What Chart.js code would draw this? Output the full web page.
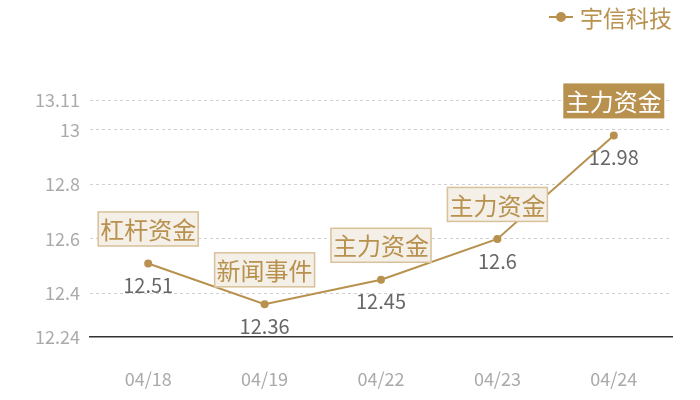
<!DOCTYPE html>
<html><head><meta charset="utf-8">
<script src="https://cdn.jsdelivr.net/npm/chart.js@4"></script>
<style>html,body{margin:0;padding:0;background:#fff}#wrap{width:700px;height:400px}</style>
</head><body><div id="wrap"><canvas id="c" width="700" height="400"></canvas></div>
<script>
const categories = ['04/18','04/19','04/22','04/23','04/24'];
const prices = [12.51, 12.36, 12.45, 12.6, 12.98];
const tags = ['杠杆资金','新闻事件','主力资金','主力资金','主力资金'];
const highlighted = [false,false,false,false,true];
const yTicks = [12.24, 12.4, 12.6, 12.8, 13, 13.11];
const seriesName = '宇信科技';

const GOLD = '#b8914f';
const FONT = '"Noto Sans CJK SC","Noto Sans",sans-serif';

const annot = {
  id:'annot',
  afterDatasetsDraw(chart){
    const ctx = chart.ctx;
    const meta = chart.getDatasetMeta(0);
    ctx.save();
    meta.data.forEach((pt,i)=>{
      const x = pt.x, y = pt.y;
      // value label
      ctx.font = '20px ' + FONT;
      ctx.fillStyle = '#666';
      ctx.textAlign = 'center';
      ctx.textBaseline = 'middle';
      ctx.fillText(String(prices[i]), x, y + 22);
      // tag box
      ctx.font = '24px ' + FONT;
      const w = 101, h = 35;
      const bx = x - w/2, by = y - 17 - h;
      if (highlighted[i]) {
        ctx.fillStyle = GOLD;
        ctx.fillRect(bx, by, w, h);
        ctx.fillStyle = '#fff';
      } else {
        ctx.fillStyle = '#f4efe7';
        ctx.fillRect(bx, by, w, h);
        ctx.strokeStyle = '#d8c29a';
        ctx.lineWidth = 1.5;
        ctx.strokeRect(bx+0.5, by+0.5, w-1, h-1);
        ctx.fillStyle = GOLD;
      }
      ctx.fillText(tags[i], x, by + h/2 + 1);
    });
    // legend
    ctx.strokeStyle = GOLD; ctx.lineWidth = 2;
    ctx.beginPath(); ctx.moveTo(549,17); ctx.lineTo(573,17); ctx.stroke();
    ctx.fillStyle = GOLD;
    ctx.beginPath(); ctx.arc(561,17,5,0,Math.PI*2); ctx.fill();
    ctx.font = '23px ' + FONT;
    ctx.textAlign = 'left';
    ctx.fillText(seriesName, 580, 18);
    ctx.restore();
  }
};

new Chart(document.getElementById('c'), {
  type:'line',
  data:{ labels: categories, datasets:[{
    label: seriesName, data: prices, borderColor: GOLD, backgroundColor: GOLD,
    borderWidth: 2, pointRadius: 4, pointBackgroundColor: GOLD, pointBorderWidth: 0,
    tension: 0, clip: false
  }]},
  options:{
    responsive:false, animation:false, devicePixelRatio:1,
    layout:{ padding:{ top:100, right:28, left:0, bottom:0 } },
    plugins:{ legend:{display:false}, tooltip:{enabled:false} },
    scales:{
      x:{
        offset:true,
        grid:{ display:false },
        border:{ display:true, color:'#333', width:1.5 },
        ticks:{ color:'#aaa', font:{ size:18, family:FONT }, padding:23 },
        afterFit(s){ s.height = 63; }
      },
      y:{
        min: 12.24, max: 13.11,
        afterBuildTicks(s){ s.ticks = yTicks.map(v=>({value:v})); },
        grid:{ color:(c)=> c.tick && c.tick.value === 12.24 ? 'rgba(0,0,0,0)' : '#d0d0d0', drawTicks:false, lineWidth:1 },
        border:{ display:false, dash:[3,3] },
        ticks:{ color:'#aaa', font:{ size:18, family:FONT }, padding:10, callback:(v)=>String(v) },
        afterFit(s){ s.width = 90; }
      }
    }
  },
  plugins:[annot]
});
</script></body></html>
